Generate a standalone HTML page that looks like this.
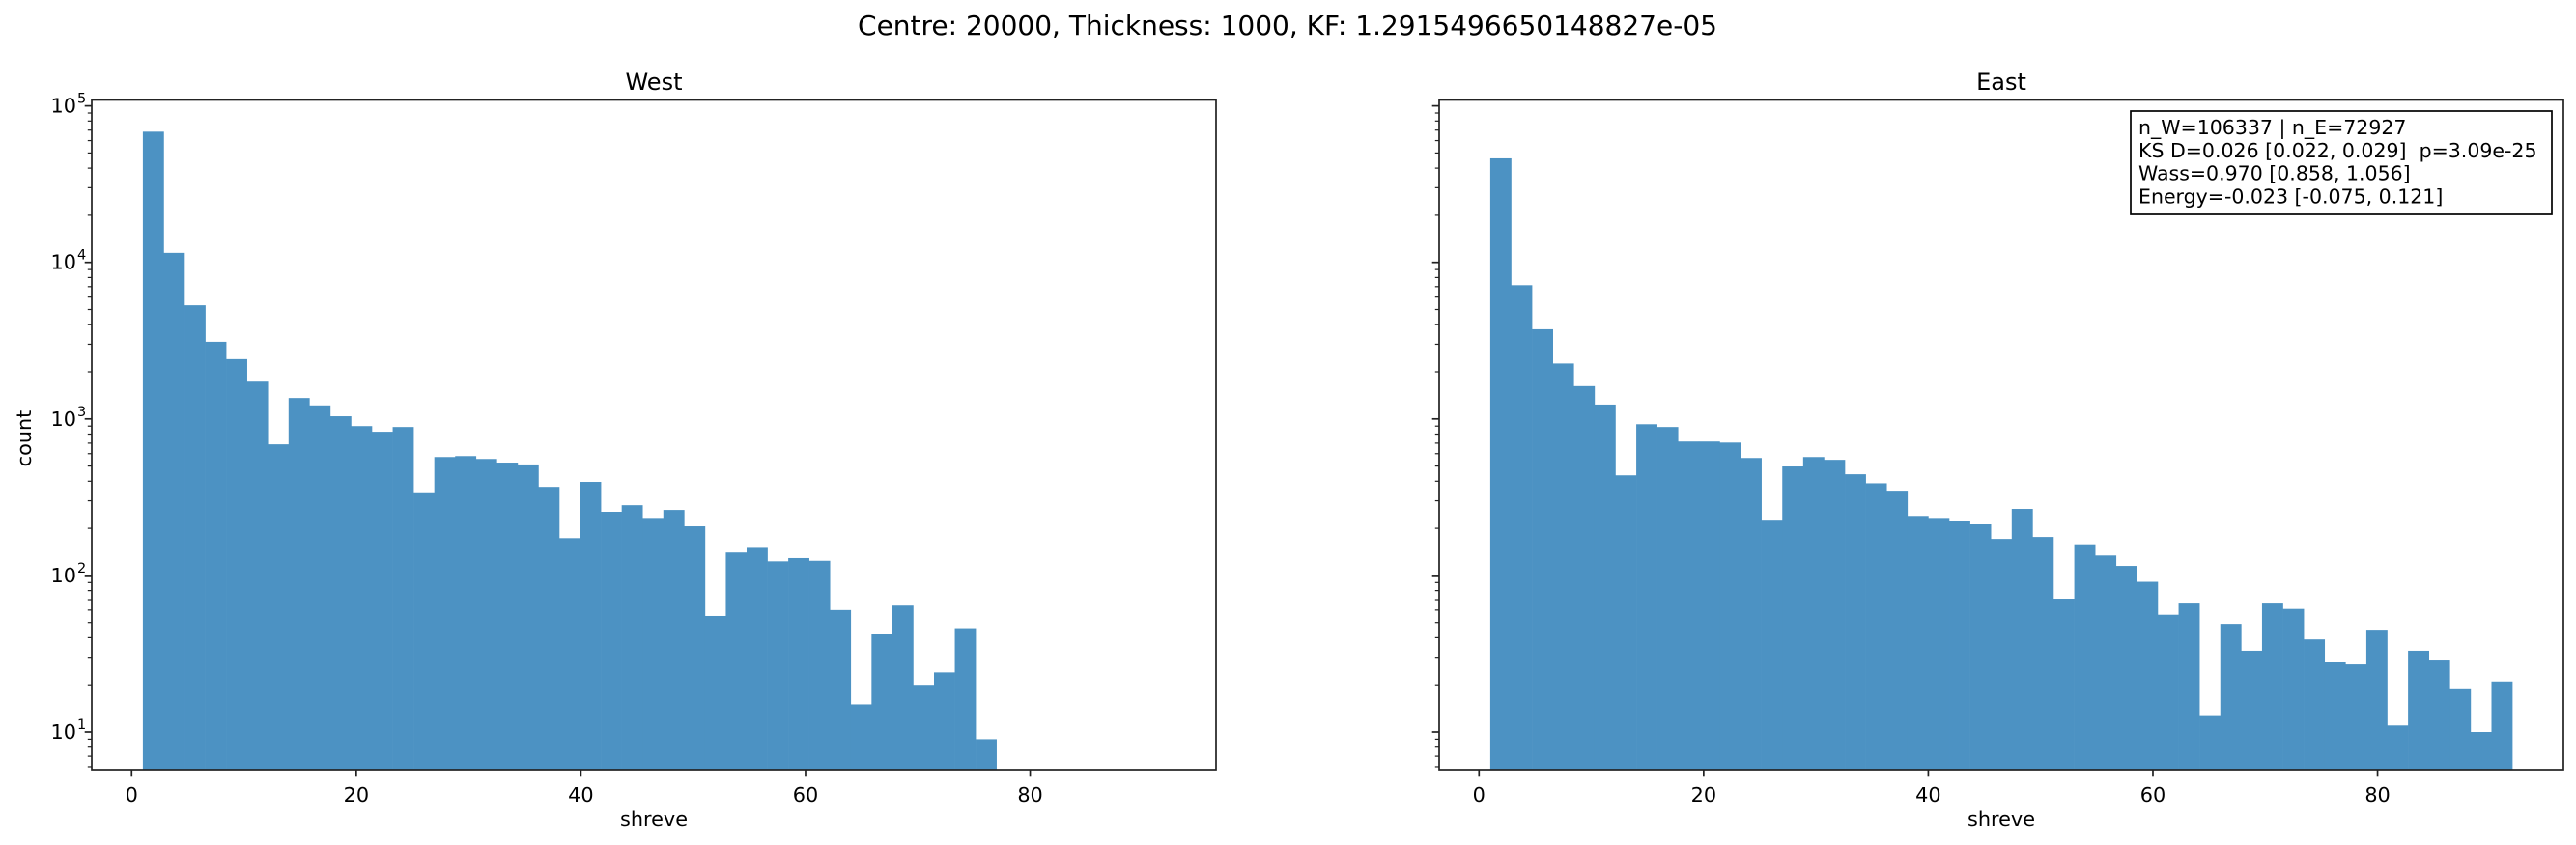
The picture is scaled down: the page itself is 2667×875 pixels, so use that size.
<!DOCTYPE html>
<html><head><meta charset="utf-8">
<style>
html,body{margin:0;padding:0;background:#fff;}
svg{display:block;font-family:"DejaVu Sans","Liberation Sans",sans-serif;}
</style></head>
<body>
<svg id="fig" width="2667" height="875" viewBox="0 0 2667 875" xmlns="http://www.w3.org/2000/svg">
<rect width="2667" height="875" fill="#fff"/>
<text x="1333" y="36" font-size="28" text-anchor="middle" fill="#000">Centre: 20000, Thickness: 1000, KF: 1.2915496650148827e-05</text>
<g id="west"></g>
<g id="east"></g>
</svg>
<script>
const westCounts = [68400,11500,5320,3110,2410,1730,688,1360,1220,1040,900,828,888,340,571,579,555,526,512,368,173,396,255,281,233,262,206,55,140,152,123,129,124,60,15,42,65,20,24,46,9];
const eastCounts = [46200,7150,3740,2260,1620,1235,436,925,888,717,717,706,563,227,497,571,548,443,388,348,240,233,224,212,171,266,176,71,158,134,115,91,56,67,12.8,49,33,67,61,39,28,27,45,11,33,29,19,10,21];
const westRange = [1,77];
const eastRange = [1,92];
const xTicks = [0,20,40,60,80];
const yDecades = [1,2,3,4,5];
const xDomain = [-3.55,96.55];

const NS = "http://www.w3.org/2000/svg";
const TOP = 103.5, BOT = 797, PW = 1164;
function mk(tag, attrs, parent){const e=document.createElementNS(NS,tag);for(const k in attrs)e.setAttribute(k,attrs[k]);parent.appendChild(e);return e;}
function yScale(v){return 758 - 162.1*(Math.log10(v)-1);}

function panel(gid, left, title, counts, range, showY){
  const g = document.getElementById(gid);
  const xScale = u => left + (u - xDomain[0]) / (xDomain[1]-xDomain[0]) * PW;
  const w = (range[1]-range[0]) / counts.length;
  counts.forEach((c,i)=>{
    const x1 = xScale(range[0]+i*w), x2 = xScale(range[0]+(i+1)*w);
    const yt = yScale(c);
    const r = mk('rect',{x:x1,y:yt,width:x2-x1+0.3,height:BOT-yt,fill:'rgb(76,146,195)'},g);
    
    
  });
  const f = mk('rect',{x:left,y:TOP,width:PW,height:BOT-TOP,fill:'none',stroke:'#222',"stroke-width":1.7},g);
  
  
  xTicks.forEach(t=>{
    const x = xScale(t);
    mk('line',{x1:x,x2:x,y1:BOT,y2:BOT+7.3,stroke:'#222',"stroke-width":1.7},g);
    const tx = mk('text',{x:x,y:830,"font-size":20.8,"text-anchor":"middle",fill:'#000'},g);
    tx.textContent = t;
    
    
  });
  yDecades.forEach(d=>{
    const y = yScale(Math.pow(10,d));
    mk('line',{x1:left-7.3,x2:left,y1:y,y2:y,stroke:'#222',"stroke-width":1.7},g);
    if(showY){
      const tx = mk('text',{x:left-16,y:y+7,"font-size":20.8,"text-anchor":"end",fill:'#000'},g);
      tx.textContent = '10';
      
      
      const sp = mk('text',{x:left-15,y:y-3,"font-size":14.5,"text-anchor":"start",fill:'#000'},g);
      sp.textContent = d;
    }
  });
  for(let d=0; d<=5; d++){
    for(let m=2;m<=9;m++){
      const v = m*Math.pow(10,d), y = yScale(v);
      if(y<TOP||y>BOT) continue;
      mk('line',{x1:left-4.2,x2:left,y1:y,y2:y,stroke:'#222',"stroke-width":1.2},g);
    }
  }
  const t = mk('text',{x:left+PW/2,y:93,"font-size":24,"text-anchor":"middle",fill:'#000'},g);
  t.textContent = title;
  
  
  const xl = mk('text',{x:left+PW/2,y:855,"font-size":20.8,"text-anchor":"middle",fill:'#000'},g);
  xl.textContent = 'shreve';
  
  
  return xScale;
}
panel('west', 95, 'West', westCounts, westRange, true);
panel('east', 1490, 'East', eastCounts, eastRange, false);

const svg = document.getElementById('fig');
const yl = mk('text',{x:0,y:0,"font-size":20.8,"text-anchor":"middle",fill:'#000',transform:'translate(32,454) rotate(-90)'},svg);
yl.textContent = 'count';



const box = mk('g',{},svg);


mk('rect',{x:2206,y:115,width:436,height:107,fill:'#fff',stroke:'#000',"stroke-width":1.7},box);
const lines = ['n_W=106337 | n_E=72927','KS D=0.026 [0.022, 0.029]  p=3.09e-25','Wass=0.970 [0.858, 1.056]','Energy=-0.023 [-0.075, 0.121]'];
lines.forEach((s,i)=>{
  const t = mk('text',{x:2214,y:139+i*23.8,"font-size":20.5,fill:'#000'},box);
  t.setAttribute('xml:space','preserve');
  t.style.whiteSpace='pre';
  t.textContent = s;
  
  
});
</script>
</body></html>
